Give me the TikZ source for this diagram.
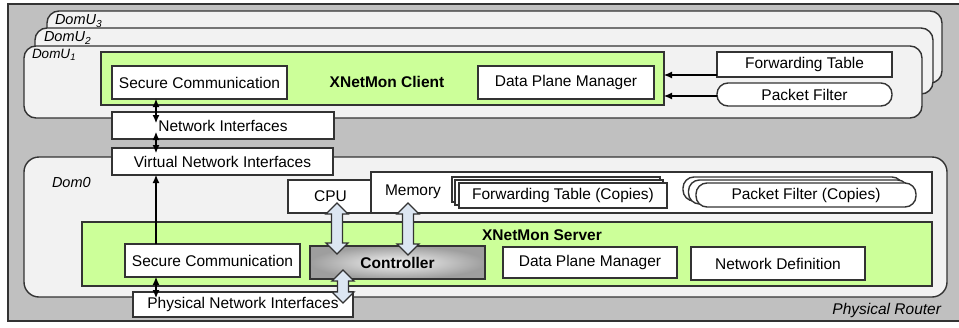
\documentclass[tikz,border=0pt]{standalone}
\usepackage{fontspec}
\setmainfont{Liberation Sans}
\usetikzlibrary{arrows.meta,calc}
\definecolor{bggray}{HTML}{C0C0C0}
\definecolor{domfill}{HTML}{F2F2F2}
\definecolor{grn}{HTML}{CCFF99}
\definecolor{edgec}{HTML}{333333}
\definecolor{fatblue}{HTML}{DCE6F2}
\newcommand{\fatarr}[3]{%
  \draw[fatarrow] (#1-5.5,#2+11) -- (#1-11,#2+11) -- (#1,#2) -- (#1+11,#2+11) -- (#1+5.5,#2+11)
    -- (#1+5.5,#3-11) -- (#1+11,#3-11) -- (#1,#3) -- (#1-11,#3-11) -- (#1-5.5,#3-11) -- cycle;}
\begin{document}
\begin{tikzpicture}[x=1pt,y=-1pt,
  every node/.style={font=\fontsize{15.5}{18}\selectfont, inner sep=0pt, outer sep=0pt},
  outline/.style={draw=edgec, line width=1.4pt},
  dom/.style={outline, fill=domfill, rectangle, rounded corners=12pt},
  grnbox/.style={outline, fill=grn, rectangle},
  wbox/.style={outline, fill=white, rectangle},
  pill/.style={outline, fill=white, rectangle, rounded corners=11pt},
  lbl/.style={font=\fontsize{14.5}{16}\selectfont\itshape, anchor=west},
  onearrow/.style={draw=black, line width=1.1pt, -{Latex[length=8pt,width=7pt]}},
  twoarrow/.style={draw=black, line width=1.1pt, {Latex[length=8pt,width=7pt]}-{Latex[length=8pt,width=7pt]}},
  fatarrow/.style={draw=edgec, line width=1.3pt, fill=fatblue, line join=miter},
  sz/.style 2 args={minimum width=#1, minimum height=#2}
]
\useasboundingbox (0,0) rectangle (959,327);
% physical router
\node[rectangle, fill=bggray, sz={960}{317}] (router) at (488,162.5) {};
\draw[outline, line width=1.6pt] (970,4) -- (8,4) -- (8,321) -- (970,321);
\node[font=\fontsize{15.5}{18}\selectfont\itshape, anchor=east] (prl) at (941,310) {Physical Router};
% DomUs
\node[dom, sz={895}{72}] (domu3) at (494.5,47) {};
\node[lbl] (domu3l) at (55,21) {DomU\textsubscript{3}};
\node[dom, sz={898}{66}] (domu2) at (484,61) {};
\node[lbl] (domu2l) at (44,38) {DomU\textsubscript{2}};
\node[dom, sz={898}{72}] (domu1) at (473,82) {};
\node[lbl, font=\fontsize{13.5}{15}\selectfont\itshape] (domu1l) at (32,55) {DomU\textsubscript{1}};
% client
\node[grnbox, sz={563}{53}] (client) at (382.5,78.5) {};
\node[font=\fontsize{15.5}{18}\selectfont\bfseries] (clientl) at (387,82) {XNetMon Client};
\node[wbox, sz={175}{33}] (sc1) at (199.5,82.5) {Secure Communication};
\node[wbox, sz={176}{33}] (dpm1) at (566,82.5) {Data Plane Manager};
\node[wbox, sz={175}{25}] (ft) at (804.5,64.5) {Forwarding Table};
\node[pill, sz={175}{23}] (pf) at (804.5,94.5) {Packet Filter};
\coordinate (fty) at (0,75);
\coordinate (pfy) at (0,96);
\draw[onearrow] (ft.west |- fty) -- (client.east |- fty);
\draw[onearrow] (pf.west |- pfy) -- (client.east |- pfy);
% Dom0
\node[dom, rounded corners=15pt, sz={923}{140}] (dom0) at (485.5,227) {};
\node[lbl] (dom0l) at (52,183) {Dom0};
\node[wbox, sz={85}{33}] (cpu) at (330.5,196.5) {CPU};
\node[wbox, sz={561}{41}] (mem) at (651.5,192.5) {};
\node[anchor=west] (meml) at (385,192) {Memory};
\node[wbox, sz={208}{25}] (ftc3) at (556,189.5) {};
\node[wbox, sz={208}{25}] (ftc2) at (559,192.5) {};
\node[wbox, sz={208}{25}] (ftc) at (563,195.5) {Forwarding Table (Copies)};
\node[pill, sz={220}{24}] (pfc3) at (793,189) {};
\node[pill, sz={220}{24}] (pfc2) at (798.5,192) {};
\node[pill, sz={220}{24}] (pfc) at (806,195) {Packet Filter (Copies)};
% server
\node[grnbox, sz={850}{64}] (server) at (507,254) {};
\node[font=\fontsize{15.5}{18}\selectfont\bfseries] (serverl) at (542,235) {XNetMon Server};
\node[wbox, sz={175}{33}] (sc2) at (212.5,260.5) {Secure Communication};
\node[outline, rectangle, inner color=white!92!gray, outer color=black!38, sz={175}{33},
  font=\fontsize{15.5}{18}\selectfont\bfseries] (ctrl) at (397.5,262.5) {Controller};
\node[wbox, sz={174}{31}] (dpm2) at (590,262.5) {Data Plane Manager};
\node[wbox, sz={174}{33}] (netdef) at (778,263.5) {Network Definition};
% interfaces
\node[wbox, sz={222}{27}] (ni) at (223,125.5) {Network Interfaces};
\node[wbox, sz={221}{27}] (vni) at (222.5,161.5) {Virtual Network Interfaces};
\node[wbox, sz={220}{25}] (pni) at (243,304.5) {Physical Network Interfaces};
% thin arrows
\coordinate (ax) at (156,0);
\draw[twoarrow] (sc1.south -| ax) -- ($(ni.north -| ax)+(0,11)$);
\draw[twoarrow] ($(ni.south -| ax)+(0,-7)$) -- ($(vni.north -| ax)+(0,5)$);
\draw[onearrow] (sc2.north -| ax) -- (vni.south -| ax);
\draw[twoarrow] (sc2.south -| ax) -- ($(pni.north -| ax)+(0,6)$);
% fat arrows
\fatarr{337}{203}{254}
\fatarr{408}{203}{255}
\fatarr{343}{270}{303}
\end{tikzpicture}
\end{document}
